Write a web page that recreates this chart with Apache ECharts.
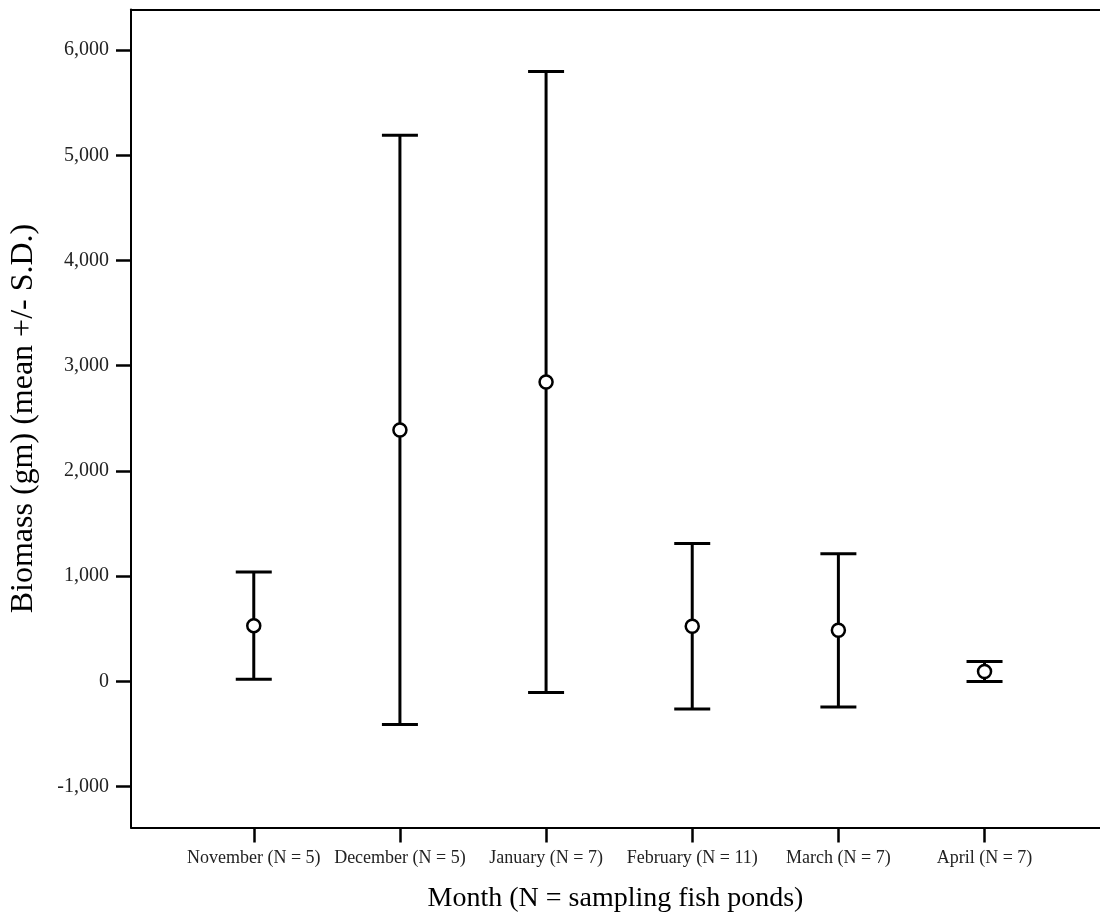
<!DOCTYPE html>
<html>
<head>
<meta charset="utf-8">
<script src="https://cdn.jsdelivr.net/npm/echarts@6/dist/echarts.min.js"></script>
<style>
  html, body { margin: 0; padding: 0; background: #fff; }
  #chart { width: 1100px; height: 921px; }
</style>
</head>
<body>
<div id="chart"></div>
<script>
// Months sampled (with number of fish ponds)
const categories = [
  'November (N = 5)', 'December (N = 5)', 'January (N = 7)',
  'February (N = 11)', 'March (N = 7)', 'April (N = 7)'
];
// Biomass mean and standard deviation (gm)
const means = [530, 2390, 2845, 524, 486, 95];
const sds   = [510, 2800, 2950, 787, 728, 95];
// Y-axis tick values
const yTicks = [-1000, 0, 1000, 2000, 3000, 4000, 5000, 6000];

const positions = categories.map((c, i) => i + 1);
const barData = positions.map((x, i) => [x, means[i] - sds[i], means[i] + sds[i]]);
const meanData = positions.map((x, i) => [x, means[i]]);

const serif = '"Liberation Serif", "Times New Roman", "DejaVu Serif", serif';
const fmt = v => {
  const s = Math.abs(v).toString().replace(/\B(?=(\d{3})+(?!\d))/g, ',');
  return (v < 0 ? '-' : '') + s;
};

const chart = echarts.init(document.getElementById('chart'), null, { renderer: 'canvas' });

chart.setOption({
  backgroundColor: '#fff',
  animation: false,
  grid: { left: 131, right: 0, top: 9.5, bottom: 93.5, outerBoundsMode: 'none', containLabel: false },
  xAxis: [{
    type: 'value',
    min: 0.16,
    max: 6.79,
    position: 'bottom',
    splitLine: { show: false },
    axisLine: { show: true, onZero: false, lineStyle: { color: '#000', width: 2 } },
    axisTick: { show: true, customValues: positions, length: 15, lineStyle: { color: '#000', width: 2.5 } },
    axisLabel: {
      customValues: positions,
      formatter: v => categories[Math.round(v) - 1] || '',
      margin: 22,
      color: '#222',
      fontFamily: serif,
      fontSize: 18
    },
    name: 'Month (N = sampling fish ponds)',
    nameLocation: 'middle',
    nameGap: 57,
    nameTextStyle: { color: '#000', fontFamily: serif, fontSize: 28 }
  }, {
    type: 'value',
    min: 0.16,
    max: 6.79,
    position: 'top',
    splitLine: { show: false },
    axisLine: { show: true, onZero: false, lineStyle: { color: '#000', width: 2 } },
    axisTick: { show: false },
    axisLabel: { show: false }
  }],
  yAxis: {
    type: 'value',
    min: -1388,
    max: 6385,
    splitLine: { show: false },
    axisLine: { show: true, onZero: false, lineStyle: { color: '#000', width: 2 } },
    axisTick: { show: true, customValues: yTicks, length: 15, lineStyle: { color: '#000', width: 2.5 } },
    axisLabel: {
      customValues: yTicks,
      formatter: fmt,
      margin: 22,
      color: '#222',
      fontFamily: serif,
      fontSize: 20
    },
    name: 'Biomass (gm) (mean +/- S.D.)',
    nameLocation: 'middle',
    nameGap: 91,
    nameTextStyle: { color: '#000', fontFamily: serif, fontSize: 32 }
  },
  series: [{
    type: 'custom',
    xAxisIndex: 0,
    data: barData,
    z: 2,
    renderItem: function (params, api) {
      const x = api.value(0);
      const lo = api.coord([x, api.value(1)]);
      const hi = api.coord([x, api.value(2)]);
      const half = 18;
      const style = { stroke: '#000', lineWidth: 3 };
      return {
        type: 'group',
        children: [
          { type: 'line', shape: { x1: lo[0], y1: lo[1], x2: hi[0], y2: hi[1] }, style },
          { type: 'line', shape: { x1: hi[0] - half, y1: hi[1], x2: hi[0] + half, y2: hi[1] }, style },
          { type: 'line', shape: { x1: lo[0] - half, y1: lo[1], x2: lo[0] + half, y2: lo[1] }, style }
        ]
      };
    }
  }, {
    type: 'scatter',
    xAxisIndex: 0,
    data: meanData,
    z: 3,
    symbol: 'circle',
    symbolSize: 13,
    itemStyle: { color: '#fff', borderColor: '#000', borderWidth: 2.5, opacity: 1 }
  }]
});
</script>
</body>
</html>
